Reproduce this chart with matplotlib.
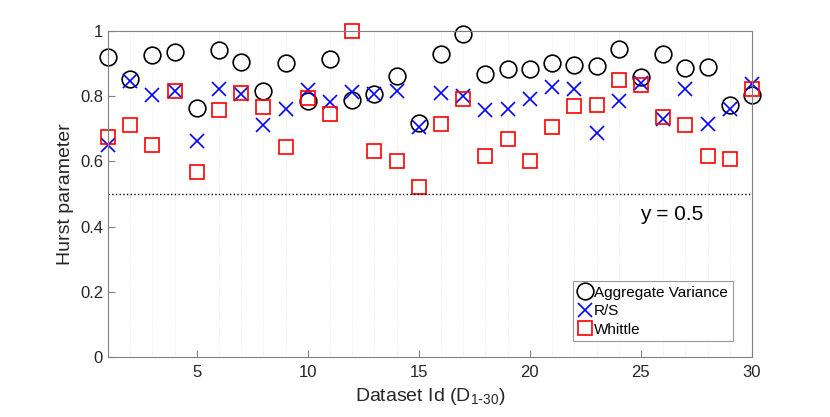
import matplotlib
matplotlib.use("Agg")
import matplotlib.pyplot as plt

plt.rcParams['font.family'] = ['Liberation Sans', 'DejaVu Sans']

# dataset ids and Hurst estimates
ids = list(range(1, 31))
agg_var = [0.921, 0.852, 0.927, 0.935, 0.763, 0.940, 0.904, 0.815, 0.900, 0.786,
           0.915, 0.788, 0.805, 0.862, 0.717, 0.928, 0.991, 0.868, 0.882, 0.882,
           0.901, 0.895, 0.893, 0.944, 0.860, 0.930, 0.886, 0.888, 0.773, 0.803]
rs = [0.650, 0.845, 0.804, 0.815, 0.661, 0.822, 0.807, 0.712, 0.760, 0.819,
      0.783, 0.811, 0.807, 0.816, 0.706, 0.809, 0.799, 0.758, 0.760, 0.791,
      0.829, 0.821, 0.686, 0.786, 0.839, 0.731, 0.821, 0.715, 0.761, 0.836]
whittle = [0.676, 0.711, 0.649, 0.816, 0.567, 0.758, 0.809, 0.768, 0.643, 0.795,
           0.744, 0.999, 0.633, 0.602, 0.520, 0.714, 0.790, 0.617, 0.668, 0.601,
           0.705, 0.770, 0.772, 0.850, 0.834, 0.737, 0.711, 0.617, 0.606, 0.821]

fig = plt.figure(figsize=(8.3, 4.17), dpi=100)
ax = fig.add_axes([0.130, 0.144, 0.776, 0.782])

ax.plot(ids, agg_var, 'o', mfc='none', mec='black', ms=12, mew=1.2, label='Aggregate Variance', clip_on=False)
ax.plot(ids, rs, 'x', color='blue', ms=10, mew=1.2, label='R/S', clip_on=False)
ax.plot(ids, whittle, 's', mfc='none', mec='red', ms=10, mew=1.2, label='Whittle', clip_on=False)

ax.axhline(0.5, color='black', ls=':', lw=1)
ax.text(24.95, 0.42, 'y = 0.5', fontsize=15, color='black', va='baseline')

ax.set_xlim(1, 30)
ax.set_ylim(0, 1)
ax.set_xticks([5, 10, 15, 20, 25, 30])
ax.set_xticks(ids, minor=True)
ax.set_yticks([0, 0.2, 0.4, 0.6, 0.8, 1])
ax.set_yticklabels(['0', '0.2', '0.4', '0.6', '0.8', '1'])
ax.grid(True, which='minor', axis='x', color='#e6e6e6', lw=0.6, ls=':')
ax.tick_params(which='major', direction='in', length=5, color='#808080', labelsize=12, labelcolor='#262626')
ax.tick_params(which='minor', length=0)
ax.tick_params(axis='x', pad=6)
for s in ax.spines.values():
    s.set_color('#808080')

ax.set_xlabel(r'Dataset Id (D$_{\mathregular{1\text{-}30}}$)', fontsize=14, color='#262626')
ax.set_ylabel('Hurst parameter', fontsize=14, color='#262626')

leg = ax.legend(loc='lower right', bbox_to_anchor=(0.97, 0.048), fontsize=11, frameon=True, fancybox=False,
                edgecolor='#808080', handlelength=1.0, handletextpad=0.1, borderpad=0.3,
                labelspacing=0.3, borderaxespad=0)
leg.get_frame().set_linewidth(0.8)

fig.savefig('out.png', dpi=100)
